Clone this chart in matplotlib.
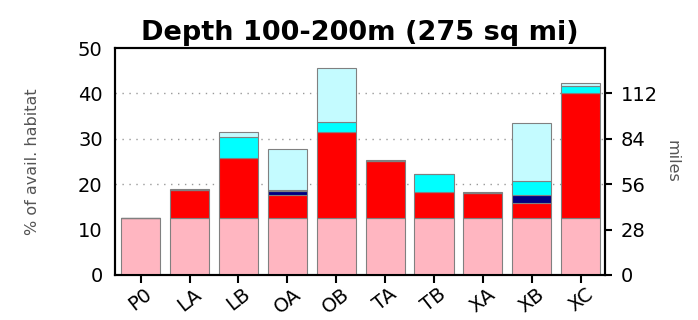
import numpy as np
import matplotlib
matplotlib.use("Agg")
import matplotlib.pyplot as plt

plt.rcParams['font.family'] = ['DejaVu Sans']

sites = ['P0', 'LA', 'LB', 'OA', 'OB', 'TA', 'TB', 'XA', 'XB', 'XC']

# stacked segments, % of available habitat (bottom to top)
base = [12.5, 12.5, 12.5, 12.5, 12.5, 12.5, 12.5, 12.5, 12.5, 12.5]
red = [0.0, 6.3, 13.2, 5.2, 19.0, 12.7, 5.7, 5.5, 3.3, 27.6]
navy = [0.0, 0.0, 0.0, 0.8, 0.0, 0.0, 0.0, 0.0, 1.8, 0.0]
cyan = [0.0, 0.0, 4.6, 0.3, 2.3, 0.0, 4.0, 0.0, 3.0, 1.5]
light = [0.0, 0.2, 1.2, 9.0, 11.7, 0.2, 0.0, 0.3, 12.9, 0.7]

layers = [base, red, navy, cyan, light]
colors = ['#ffb6c1', '#ff0000', '#000080', '#00ffff', '#c4fbff']

fig = plt.figure(figsize=(6.98, 3.2), dpi=100)
ax = fig.add_axes([0.165, 0.141, 0.702, 0.709])

x = np.arange(len(sites))
bottom = np.zeros(len(sites))
for vals, col in zip(layers, colors):
    vals = np.array(vals)
    ax.bar(x, vals, width=0.8, bottom=bottom, color=col,
           edgecolor='#808080', linewidth=0.8, zorder=3)
    bottom += vals

for gy in [20, 30, 40]:
    ax.axhline(gy, color='#999999', linestyle=(0, (1, 4)), linewidth=1, zorder=1)

ax.set_xlim(-0.52, 9.5)
ax.set_ylim(0, 50)
ax.set_yticks([0, 10, 20, 30, 40, 50])
ax.set_xticks(x)
ax.set_xticklabels(sites, rotation=38, ha='center', fontsize=14)
ax.tick_params(axis='y', labelsize=14, length=0, pad=9)
ax.tick_params(axis='x', length=6, width=1.5, direction='out', pad=1)
for s in ax.spines.values():
    s.set_linewidth(1.5)
ax.set_ylabel('% of avail. habitat', fontsize=11.5, color='#555555', labelpad=27)
ax.set_title('Depth 100-200m (275 sq mi)', fontsize=19.5, fontweight='bold', pad=6)

ax2 = ax.twinx()
ax2.set_ylim(0, 50 * 2.8)
ax2.set_yticks([0, 28, 56, 84, 112])
ax2.tick_params(axis='y', labelsize=14, length=5, width=1.5, direction='out', pad=6)
ax2.set_ylabel('miles', fontsize=11.5, color='#555555', rotation=270, labelpad=16)
for s in ax2.spines.values():
    s.set_linewidth(1.5)

fig.savefig('out.png', dpi=100)
